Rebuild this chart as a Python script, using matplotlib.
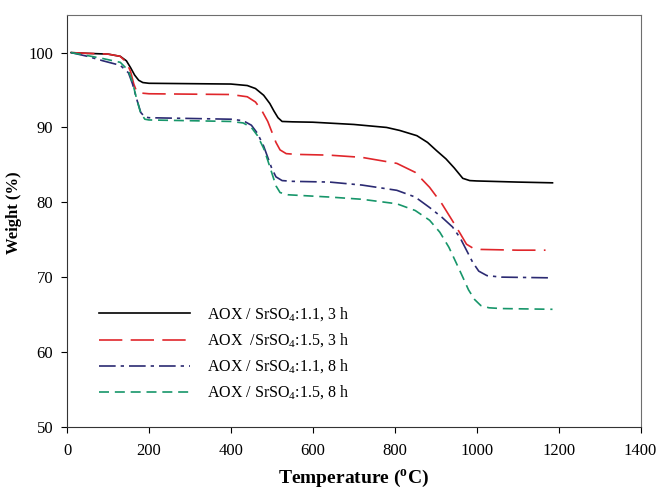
import matplotlib
matplotlib.use('Agg')
import matplotlib.pyplot as plt

plt.rcParams['font.family'] = ['Liberation Serif', 'DejaVu Serif']
plt.rcParams['mathtext.fontset'] = 'custom'
plt.rcParams['mathtext.rm'] = 'Liberation Serif'
plt.rcParams['mathtext.bf'] = 'Liberation Serif:bold'

# AOX / SrSO4 1.1, 3 h
t_a = [10, 50, 100, 130, 145, 155, 165, 175, 185, 200, 300, 400, 440, 460, 480, 495, 505, 515,
       525, 550, 600, 700, 780, 812, 854, 880, 902, 925, 945, 966, 983, 1000, 1100, 1185]
w_a = [100, 99.9, 99.8, 99.5, 98.9, 98.0, 97.0, 96.3, 96.0, 95.9, 95.85, 95.8, 95.6, 95.2, 94.3,
       93.2, 92.2, 91.3, 90.8, 90.75, 90.7, 90.4, 90.0, 89.6, 88.9, 88.0, 86.9, 85.8, 84.6, 83.2,
       82.9, 82.85, 82.7, 82.6]

# AOX / SrSO4 1.5, 3 h
t_b = [10, 50, 100, 130, 145, 155, 163, 170, 180, 200, 300, 400, 440, 460, 475, 490, 500, 510,
       520, 535, 560, 640, 720, 805, 850, 885, 915, 940, 960, 975, 990, 1010, 1100, 1168]
w_b = [100, 99.9, 99.8, 99.5, 98.7, 97.5, 95.8, 94.8, 94.6, 94.5, 94.45, 94.4, 94.1, 93.4, 92.3,
       90.8, 89.4, 88.0, 87.0, 86.5, 86.4, 86.3, 86.0, 85.2, 84.0, 82.0, 79.8, 77.6, 75.8, 74.4,
       73.9, 73.7, 73.6, 73.6]

# AOX / SrSO4 1.1, 8 h
t_c = [10, 50, 88, 130, 150, 160, 170, 180, 190, 200, 300, 400, 430, 450, 465, 480, 490, 500,
       510, 525, 550, 641, 720, 805, 850, 885, 915, 941, 960, 975, 990, 1005, 1025, 1060, 1185]
w_c = [100, 99.5, 98.9, 98.3, 97.3, 95.8, 93.8, 92.0, 91.4, 91.3, 91.2, 91.1, 90.9, 90.3, 89.2,
       87.5, 86.0, 84.5, 83.4, 82.9, 82.8, 82.7, 82.3, 81.6, 80.7, 79.3, 78.0, 76.7, 75.2, 73.6,
       72.0, 70.8, 70.2, 70.0, 69.9]

# AOX / SrSO4 1.5, 8 h
t_d = [10, 50, 88, 130, 150, 160, 170, 180, 190, 200, 300, 400, 430, 450, 465, 480, 490, 500,
       510, 520, 540, 641, 720, 805, 850, 885, 910, 932, 950, 966, 980, 995, 1010, 1030, 1060, 1185]
w_d = [100, 99.6, 99.2, 98.7, 97.6, 96.0, 93.8, 91.9, 91.1, 91.0, 90.9, 90.8, 90.6, 90.0, 88.9,
       87.2, 85.6, 83.9, 82.2, 81.3, 81.0, 80.7, 80.4, 79.8, 78.9, 77.6, 76.0, 74.0, 71.9, 70.0,
       68.3, 67.0, 66.2, 65.9, 65.8, 65.7]

labels = ['AOX / SrSO$_4$:1.1, 3 h', 'AOX  /SrSO$_4$:1.5, 3 h',
          'AOX / SrSO$_4$:1.1, 8 h', 'AOX / SrSO$_4$:1.5, 8 h']

fig = plt.figure(figsize=(6.57, 4.9), dpi=100)
ax = fig.add_axes([0.102, 0.129, 0.873, 0.840])

ax.plot(t_a, w_a, color='black', lw=1.2, label=labels[0])
ax.plot(t_b, w_b, color='#e0262b', lw=1.2, dashes=(14, 5), label=labels[1])
ax.plot(t_c, w_c, color='#2b2a72', lw=1.2, dashes=(10, 3, 2, 3), label=labels[2])
ax.plot(t_d, w_d, color='#17966a', lw=1.2, dashes=(6, 3.5), label=labels[3])

ax.set_xlim(0, 1400)
ax.set_ylim(50, 105)
ax.set_xticks(range(0, 1401, 200))
ax.set_yticks(range(50, 101, 10))
ax.tick_params(direction='out', length=4, labelsize=12, top=False, right=False)
ax.tick_params(axis='x', pad=8)
ax.tick_params(axis='y', pad=6)
for s in ax.spines.values():
    s.set_color('#6e6e6e')
ax.spines['left'].set_color('#333333')
ax.spines['bottom'].set_color('#333333')

ax.set_xlabel('Temperature ($\\mathbf{^{o}}$C)', fontsize=14, fontweight='bold', labelpad=6)
ax.set_ylabel('Weight (%)', fontsize=12, fontweight='bold')
ax.yaxis.set_label_coords(-0.078, 0.52)

ax.legend(loc='upper left', bbox_to_anchor=(0.055, 0.295), frameon=False, fontsize=11.5,
          handlelength=5.7, handletextpad=1.1, labelspacing=0.48, borderpad=0, borderaxespad=0)

fig.savefig('out.png', dpi=100)
